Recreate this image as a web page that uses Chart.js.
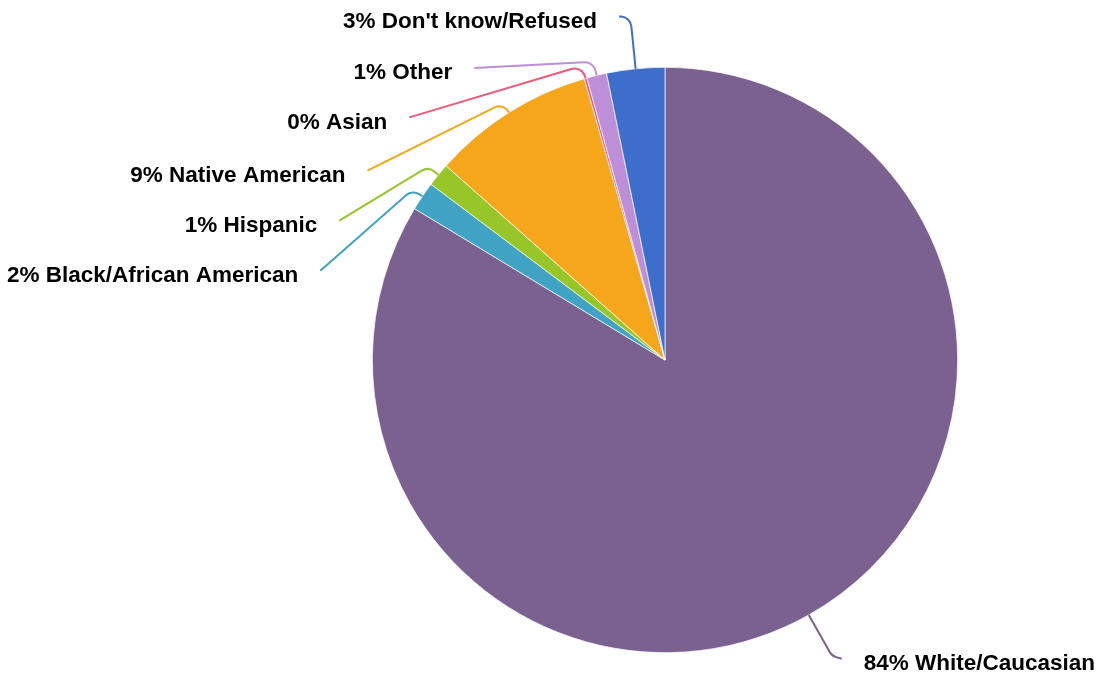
<!DOCTYPE html>
<html>
<head>
<meta charset="utf-8">
<script src="https://cdn.jsdelivr.net/npm/chart.js@4/dist/chart.umd.min.js"></script>
<style>
  html, body { margin: 0; padding: 0; background: #fff; }
</style>
</head>
<body>
<canvas id="chart" width="1099" height="677"></canvas>
<script>
var categories = ["White/Caucasian", "Black/African American", "Hispanic", "Native American", "Asian", "Other", "Don't know/Refused"];
var shares = [83.65, 1.6, 1.3, 9.0, 0.15, 1.1, 3.2];
var colors = ['#7b6190', '#41a3c3', '#96c627', '#f5a61a', '#ee5a7c', '#bd8fd8', '#3d6ecb'];

// where each label sits (in pie radii from the centre) and how far its leader runs out before bending
var labelLayout = {
  spots: [[0.679, 1.038], [-1.253, -0.288], [-1.188, -0.459], [-1.092, -0.630], [-0.949, -0.812], [-0.727, -0.981], [-0.232, -1.157]],
  bend: [47, 12, 13, 11, 13, 14, 52]
};

var outsideLabels = {
  id: 'outsideLabels',
  afterDatasetsDraw: function (chart) {
    var ctx = chart.ctx;
    var arcs = chart.getDatasetMeta(0).data;
    var total = shares.reduce(function (a, b) { return a + b; }, 0);
    ctx.save();
    ctx.font = 'bold 22.5px "Liberation Sans", Arial, sans-serif';
    ctx.textBaseline = 'middle';
    arcs.forEach(function (arc, i) {
      var p = arc.getProps(['x', 'y', 'startAngle', 'endAngle', 'outerRadius']);
      var mid = (p.startAngle + p.endAngle) / 2;
      var r = p.outerRadius;
      var ax = p.x + Math.cos(mid) * r, ay = p.y + Math.sin(mid) * r;
      var bx = p.x + Math.cos(mid) * (r + labelLayout.bend[i]);
      var by = p.y + Math.sin(mid) * (r + labelLayout.bend[i]);
      var spot = labelLayout.spots[i];
      var tx = p.x + spot[0] * r, ty = p.y + spot[1] * r;
      var right = spot[0] > 0;
      var ex = right ? tx - 22 : tx + 22, ey = ty - 5;

      ctx.strokeStyle = colors[i];
      ctx.lineWidth = 2;
      ctx.beginPath();
      ctx.moveTo(ax, ay);
      ctx.arcTo(bx, by, ex, ey, 11);
      ctx.lineTo(ex, ey);
      ctx.stroke();

      ctx.fillStyle = '#000';
      ctx.textAlign = right ? 'left' : 'right';
      ctx.fillText(Math.round(shares[i] / total * 100) + '% ' + categories[i], tx, ty);
    });
    ctx.restore();
  }
};

var chart = new Chart(document.getElementById('chart').getContext('2d'), {
  type: 'pie',
  data: {
    labels: categories,
    datasets: [{
      data: shares,
      backgroundColor: colors,
      borderColor: '#ffffff',
      borderWidth: 0.7
    }]
  },
  options: {
    responsive: false,
    animation: false,
    layout: { padding: { left: 372, right: 141, top: 67, bottom: 24 } },
    plugins: {
      legend: { display: false },
      tooltip: { enabled: false }
    }
  },
  plugins: [outsideLabels]
});
</script>
</body>
</html>
